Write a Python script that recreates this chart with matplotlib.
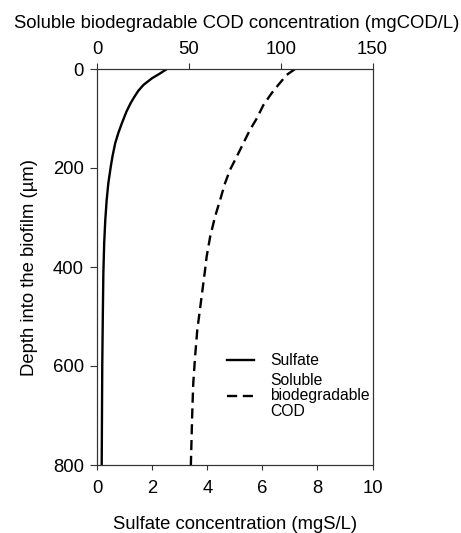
import matplotlib
matplotlib.use("Agg")
import matplotlib.pyplot as plt

plt.rcParams['font.family'] = ['Liberation Sans', 'DejaVu Sans']

# sulfate profile (mgS/L) vs depth (um)
sulf_depth = [0, 10, 19, 32, 44, 56, 69, 86, 110, 130, 150, 177, 197, 231, 265,
              305, 352, 413, 500, 600, 700, 800]
sulfate = [2.53, 2.25, 1.98, 1.68, 1.49, 1.35, 1.21, 1.06, 0.89, 0.76, 0.65, 0.55,
           0.49, 0.40, 0.34, 0.29, 0.25, 0.22, 0.20, 0.18, 0.17, 0.16]

# soluble biodegradable COD profile (mgCOD/L) vs depth (um)
cod_depth = [0, 12, 32, 49, 73, 100, 123, 150, 177, 204, 231, 265, 298, 339, 379,
             407, 473, 527, 581, 635, 689, 743, 800]
cod = [107.8, 103.2, 98.7, 95.0, 90.5, 86.9, 83.2, 79.6, 76.0, 72.3, 69.6, 66.9,
       64.2, 61.5, 59.6, 58.7, 56.4, 54.5, 53.3, 52.3, 51.8, 51.4, 51.0]

fig = plt.figure(figsize=(4.61, 5.33), dpi=100)
ax = fig.add_axes([97.3 / 461, 1 - 465 / 533, 275.2 / 461, 396 / 533])
ax2 = ax.twiny()

l1, = ax.plot(sulfate, sulf_depth, color='black', lw=1.7)
l2, = ax2.plot(cod, cod_depth, color='black', lw=1.7, dashes=(4.3, 2.4))

ax.set_xlim(0, 10)
ax2.set_xlim(0, 150)
ax.set_ylim(800, 0)
ax.set_xticks([0, 2, 4, 6, 8, 10])
ax2.set_xticks([0, 50, 100, 150])
ax.set_yticks([0, 200, 400, 600, 800])

for a in (ax, ax2):
    for s in a.spines.values():
        s.set_color('#333333')
        s.set_linewidth(0.8)
ax.tick_params(axis='x', direction='out', length=3.8, width=0.8, pad=7, labelsize=13.3, color='#333333')
ax.tick_params(axis='y', direction='out', length=5, width=0.8, pad=4.5, labelsize=13.3, color='#333333')
ax2.tick_params(axis='x', direction='out', length=4.5, width=0.8, pad=3.5, labelsize=13.3, color='#333333')

ax.set_xlabel('Sulfate concentration (mgS/L)', fontsize=13.3)
ax.set_ylabel('Depth into the biofilm (µm)', fontsize=13.3)
ax2.set_xlabel('Soluble biodegradable COD concentration (mgCOD/L)', fontsize=13.3)
ax.xaxis.set_label_coords(0.5, -0.129)
ax.yaxis.set_label_coords(-0.215, 0.5)
ax2.xaxis.set_label_coords(0.505, 1.103)

leg = fig.legend([l1, l2], ['Sulfate', 'Soluble\nbiodegradable\nCOD'],
                 loc='upper left', bbox_to_anchor=(227 / 461, 1 - 353 / 533),
                 frameon=False, fontsize=11.3, borderpad=0, borderaxespad=0,
                 handlelength=1.75, handletextpad=1.0, labelspacing=0.3)
for t in leg.get_texts():
    t.set_linespacing(1.05)

fig.savefig('out.png', dpi=100)
